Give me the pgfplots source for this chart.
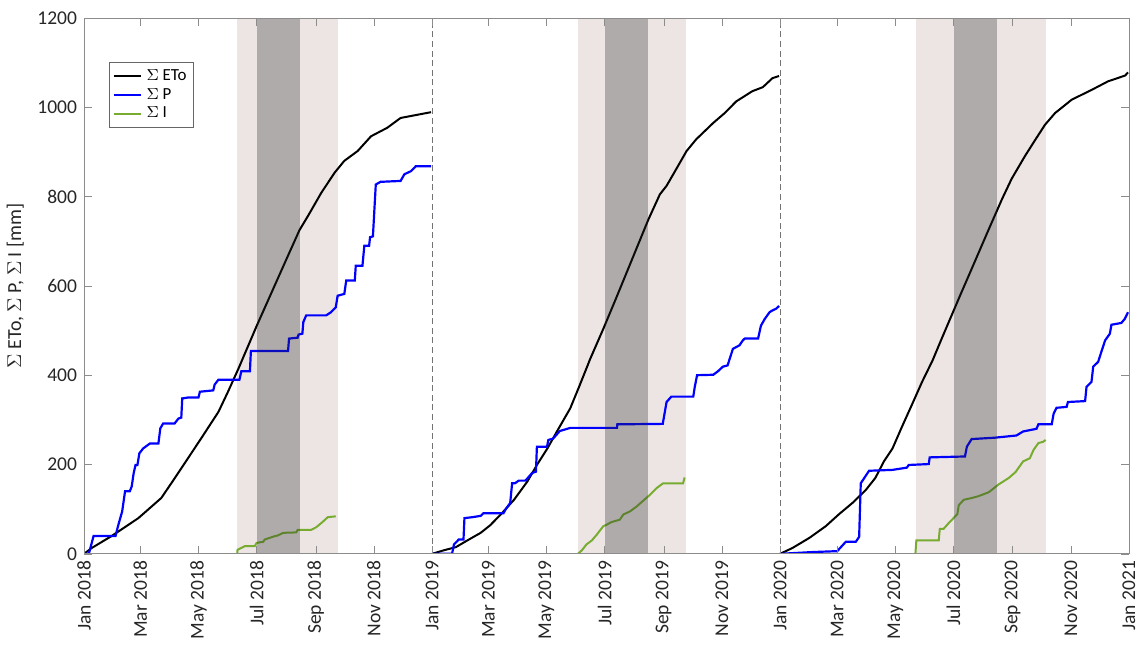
\documentclass[border=0pt]{standalone}
\usepackage{fontspec}
\setmainfont{Carlito}
\usepackage{pgfplots}
\pgfplotsset{compat=1.18}

\definecolor{band}{RGB}{237,229,228}
\definecolor{shade}{RGB}{37,39,41}
\definecolor{mgreen}{RGB}{119,172,48}
\definecolor{txt}{RGB}{38,38,38}

\begin{document}
\begin{tikzpicture}
\begin{axis}[
    scale only axis,
    width=524.5pt, height=269pt,
    xmin=0, xmax=1096, ymin=0, ymax=1200,
    axis on top,
    axis line style={black!45},
    tick align=inside,
    major tick length=4pt,
    tick style={black!45},
    xtick={0,59,120,181,243,304,365,424,485,546,608,669,730,790,851,912,974,1035,1096},
    xticklabels={Jan 2018,Mar 2018,May 2018,Jul 2018,Sep 2018,Nov 2018,
                 Jan 2019,Mar 2019,May 2019,Jul 2019,Sep 2019,Nov 2019,
                 Jan 2020,Mar 2020,May 2020,Jul 2020,Sep 2020,Nov 2020,Jan 2021},
    xticklabel style={rotate=90, anchor=east, font=\fontsize{9.8}{10}\selectfont, text=txt},
    ytick={0,200,400,600,800,1000,1200},
    yticklabel style={font=\fontsize{9.8}{10}\selectfont, text=txt},
    /pgf/number format/assume math mode=true,
    /pgf/number format/1000 sep={},
    ylabel={$\Sigma$ ETo, $\Sigma$ P, $\Sigma$ I [mm]},
    ylabel style={font=\fontsize{10}{11}\selectfont, text=txt},
    legend style={at={(0.024,0.918)}, anchor=north west, draw=black!60,
        font=\fontsize{8.5}{9}\selectfont, inner sep=1.5pt, row sep=-1.5pt,
        cells={anchor=west}},
    legend image code/.code={\draw[#1] (0pt,0pt) -- (14pt,0pt);},
]
% light bands (behind the lines)
\addplot[fill=band, draw=none, forget plot] coordinates {(160.5,0)(160.5,1200)(266,1200)(266,0)} -- cycle;
\addplot[fill=band, draw=none, forget plot] coordinates {(518,0)(518,1200)(631,1200)(631,0)} -- cycle;
\addplot[fill=band, draw=none, forget plot] coordinates {(872.5,0)(872.5,1200)(1009.5,1200)(1009.5,0)} -- cycle;

% year separators
\addplot[black!55, dash pattern=on 3pt off 1.8pt, forget plot] coordinates {(365,0)(365,1200)};
\addplot[black!55, dash pattern=on 3pt off 1.8pt, forget plot] coordinates {(730,0)(730,1200)};

% 2018
\addplot[black, line width=1pt] coordinates {
(0,0)(8,13)(29,40)(57,80)(81,125)(95,169)(109,214)(123,259)(141,318)(151,363)(162,415)(172,465)(181,510)
(200,601)(214,668)(226,725)(235,757)(249,809)(263,854)(273,880)(287,902)(301,935)(318,954)(332,976)(364,989)};
\addlegendentry{$\Sigma$ ETo}
\addplot[blue, line width=1.1pt] coordinates {
(0,0)(5,0)(10,40)(33,40)(36,65)(40,95)(43,140)(48,140)(50,151)(52,180)(54,199)(56,199)(58,225)(62,236)
(69,247)(78,247)(80,281)(83,292)(95,292)(99,303)(102,305)(103,348)(109,350)(120,350)(121.5,363)(135.5,366)
(137,379)(141,390)(163,390)(165,409)(174,409)(175,454)(214,454)(215,482)(224,484)(225,491)(229,493)
(230,519)(233,534)(254,534)(259,541)(264,552)(266,578)(273,582)(275,612)(284,612)(285,645)(292,645)
(294,690)(299,690)(300,709)(303,711)(306,827)(311,833)(332,835)(336,850)(343,857)(348,868)(364,868)};
\addlegendentry{$\Sigma$ P}
\addplot[mgreen, line width=1pt] coordinates {
(160.6,0)(161,9)(168.5,17)(179,17)(181,24.5)(188,27)(189.5,32)(195,36)(200,39.5)(203,41)(209,47)
(222.6,48)(224,53.5)(238,53.5)(243.5,59.5)(250,71)(255.6,82)(264,84)};
\addlegendentry{$\Sigma$ I}

% 2019
\addplot[black, line width=1pt, forget plot] coordinates {
(365,0)(377.5,8)(390,15)(402,30)(416,47)(426,64)(437,88)(451,121)(465,162)(475,199)(486,236)(496,274)
(510,326)(520,378)(531,437)(544.7,504)(558,572)(573,650)(592,749)(604,805)(611,824)(621,861)
(632,902)(642,928)(660,965)(672,987)(684,1013)(701,1036)(712,1045)(722,1065)(729,1070)};
\addplot[blue, line width=1.1pt, forget plot] coordinates {
(365,0)(386,0)(388,21)(393,32)(398,32)(399,80)(407,82)(416,85)(419,91)(440,91)(442,99)(447,114)
(449,158)(452,158)(456,164)(463,164)(470,181)(474,184)(475,240)(485.6,240)(487,255)(492,258)(499,275)
(510,282)(559,282)(559.4,290)(607,291)(611,340)(616,352)(639,352)(640.6,374)(643,400)(660,401)
(665,409)(670,419)(675,422)(680.6,459)(687.5,467)(691,478)(693,482)(707,482)(710,511)(714,526)
(719,541)(722,545)(726,549)(729,555)};
\addplot[mgreen, line width=1pt, forget plot] coordinates {
(518,0)(522,7.5)(527,21)(532.6,30)(537.8,43)(544.7,62)(548,65)(553,71)(562,76.5)(565.6,88)(572.6,95)
(579.6,106)(586.5,119)(593.5,132)(600.5,147)(607.4,158)(628.3,158)(630,171)};

% 2020
\addplot[black, line width=1pt, forget plot] coordinates {
(730,0)(743,13)(761,36)(778,62)(792,89)(806,114)(820,143)(830,170)(839,207)(848,236)(858,285)
(869,337)(879,385)(890,433)(900,484)(910,534)(920,584)(931,638)(949,727)(963,795)(973,840)(987,891)
(998,928)(1008,961)(1018.5,987)(1036,1017)(1057,1039)(1074,1058)(1092,1071)(1095,1078)};
\addplot[blue, line width=1.1pt, forget plot] coordinates {
(730,0)(764,4)(790,6)(799,27)(809.5,27)(813,38)(814.7,158)(823.4,186)(848,188)(863,193)(865,199)
(886,201)(887,216)(924,218)(926,240)(931,257)(955,260)(978,265)(985,274)(999,280)(1001,290)(1015,290)
(1017,314)(1020,327)(1030.6,329)(1032,340)(1050,342)(1051.5,374)(1056.7,385)(1058.5,419)(1063.7,430)
(1067,452)(1071,478)(1076,493)(1077.6,513)(1088,517)(1091.6,526)(1095,541)};
\addplot[mgreen, line width=1pt, forget plot] coordinates {
(872,0)(873,30)(896.5,30)(897.6,56)(901.6,56)(907,69)(912,80)(916,89)(917.5,109)(922.7,121)(931,125)
(938,129)(949,138)(959,155)(970,170)(977,183)(985,207)(992,214)(996,233)(1001,248)(1006,251)(1008.6,255)};

% dark bands (semi-transparent, over the lines)
\addplot[fill=shade, fill opacity=0.3, draw=none, forget plot] coordinates {(181.5,0)(181.5,1200)(226,1200)(226,0)} -- cycle;
\addplot[fill=shade, fill opacity=0.3, draw=none, forget plot] coordinates {(546.5,0)(546.5,1200)(592,1200)(592,0)} -- cycle;
\addplot[fill=shade, fill opacity=0.3, draw=none, forget plot] coordinates {(913,0)(913,1200)(957.5,1200)(957.5,0)} -- cycle;
\end{axis}
\path (-41pt,-44.5pt) rectangle (530pt,278pt);
\end{tikzpicture}
\end{document}
